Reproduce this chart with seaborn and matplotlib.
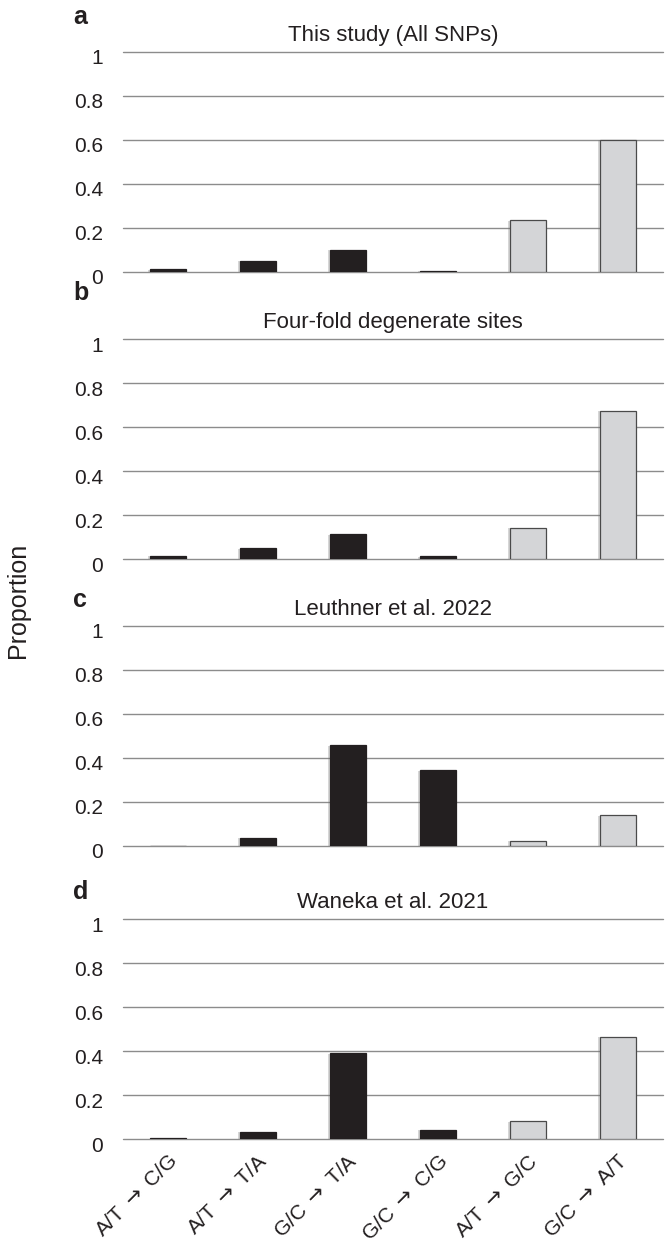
import matplotlib
matplotlib.use("Agg")
import matplotlib.pyplot as plt
import matplotlib.transforms as mtransforms
import matplotlib.patheffects as pe
import seaborn as sns

# ---- data ----
categories = [r"A/T $\rightarrow$ C/G", r"A/T $\rightarrow$ T/A", r"G/C $\rightarrow$ T/A",
              r"G/C $\rightarrow$ C/G", r"A/T $\rightarrow$ G/C", r"G/C $\rightarrow$ A/T"]
vals_a = [0.012, 0.050, 0.100, 0.006, 0.235, 0.602]
vals_b = [0.015, 0.048, 0.113, 0.012, 0.142, 0.675]
vals_c = [0.002, 0.038, 0.457, 0.344, 0.024, 0.140]
vals_d = [0.003, 0.033, 0.390, 0.042, 0.080, 0.465]
panel_letters = ["a", "b", "c", "d"]
panel_titles = ["This study (All SNPs)", "Four-fold degenerate sites",
                "Leuthner et al. 2022", "Waneka et al. 2021"]
yticks = [0, 0.2, 0.4, 0.6, 0.8, 1]
ytick_labels = ["0", "0.2", "0.4", "0.6", "0.8", "1"]
ylabel = "Proportion"

sns.set_theme(style="white")
plt.rcParams["font.family"] = ["Liberation Sans", "DejaVu Sans"]
plt.rcParams["mathtext.fontset"] = "dejavusans"

W, H = 670, 1251
fig = plt.figure(figsize=(W / 100, H / 100), dpi=100)

bar_colors = ["#231f20"] * 4 + ["#d4d5d7"] * 2
edge_colors = ["#231f20"] * 4 + ["#4a4a4a"] * 2
text_color = "#231f20"
grid_color = "#8c8c8c"

# axes pixel geometry (top gridline y, zero line y)
left_px, right_px = 123, 663
panels = [(52, 272), (339, 559), (626, 846), (919, 1139)]
letter_y = [17, 293, 600, 892]

all_vals = [vals_a, vals_b, vals_c, vals_d]

for i, (vals, (ytop, ybot)) in enumerate(zip(all_vals, panels)):
    ax = fig.add_axes([left_px / W, 1 - ybot / H, (right_px - left_px) / W, (ybot - ytop) / H])
    ax.set_axisbelow(True)
    for t in yticks:
        ax.axhline(t, color=grid_color, lw=1.0, zorder=0, clip_on=False)
    sns.barplot(x=categories, y=vals, hue=categories, palette=bar_colors,
                width=0.41, saturation=1, legend=False, ax=ax, zorder=3)
    for patch, ec in zip(ax.patches, edge_colors):
        patch.set_edgecolor(ec)
        patch.set_linewidth(0.9)
        patch.set_path_effects([
            pe.SimplePatchShadow(offset=(-1.3, -0.3), shadow_rgbFace="#7a7a7a", alpha=0.3),
            pe.Normal()])
    ax.set_ylim(0, 1)
    ax.set_xlim(-0.5, len(categories) - 0.5)
    ax.set_yticks(yticks)
    ax.set_yticklabels(ytick_labels, fontsize=15, color=text_color)
    ax.tick_params(axis="y", length=0, pad=14.5)
    offset = mtransforms.ScaledTranslation(0, -5 / 100, fig.dpi_scale_trans)
    for lab in ax.get_yticklabels():
        lab.set_transform(lab.get_transform() + offset)
    for s in ax.spines.values():
        s.set_visible(False)
    ax.grid(False)
    ax.set_ylabel("")
    ax.set_xlabel("")
    ax.set_title(panel_titles[i], fontsize=16, color=text_color, pad=8)
    ax.set_xticks(range(len(categories)))
    if i < 3:
        ax.set_xticklabels([])
        ax.tick_params(axis="x", length=0)
    else:
        ax.set_xticklabels(categories, rotation=45, ha="right",
                           rotation_mode="anchor", fontsize=15, color=text_color)
        ax.tick_params(axis="x", length=0, pad=9)
    fig.text(73 / W, 1 - letter_y[i] / H, panel_letters[i], fontsize=18,
             fontweight="bold", color=text_color, ha="left", va="center")

fig.text(18 / W, 1 - 600 / H, ylabel, rotation=90, fontsize=18,
         color=text_color, ha="center", va="center")

fig.savefig("out.png", dpi=100, facecolor="white")
